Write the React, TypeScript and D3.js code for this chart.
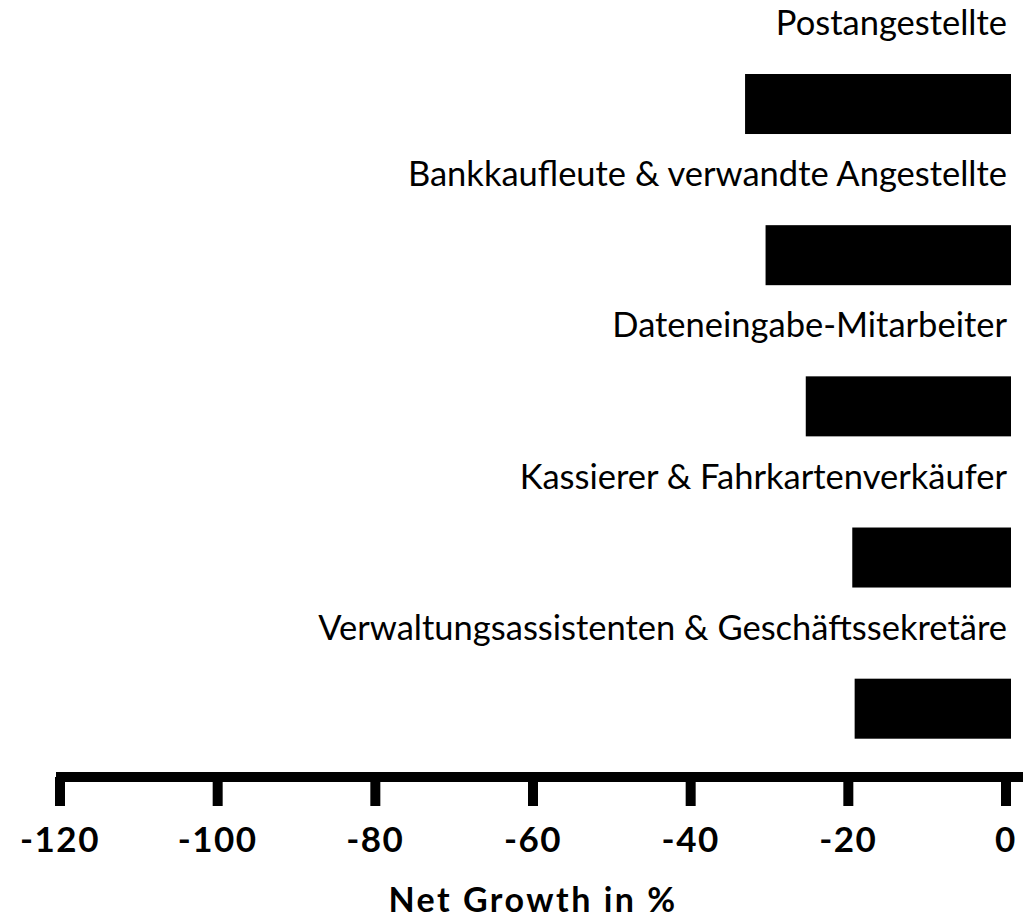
import React from "react";
import * as d3 from "d3";

const categories = [
  "Postangestellte",
  "Bankkaufleute & verwandte Angestellte",
  "Dateneingabe-Mitarbeiter",
  "Kassierer & Fahrkartenverkäufer",
  "Verwaltungsassistenten & Geschäftssekretäre",
];
const values = [-33.1, -30.5, -25.4, -19.5, -19.2];
const tickValues = [-120, -100, -80, -60, -40, -20, 0];
const axisTitle = "Net Growth in %";

const W = 1023;
const H = 920;

export default function App() {
  const x = d3.scaleLinear().domain([-120, 0]).range([60, 1006]);
  const y = d3
    .scaleBand<string>()
    .domain(categories)
    .range([74, 738.7])
    .paddingInner(0.603)
    .paddingOuter(0);
  const axisY = 777;
  const labelFont = "Lato, 'Open Sans', sans-serif";
  const tickFont = "Lato, 'Noto Sans', sans-serif";
  return (
    <svg
      width={W}
      height={H}
      style={{ position: "absolute", left: 0, top: 0, background: "#fff" }}
    >
      {categories.map((c, i) => {
        const top = y(c)!;
        return (
          <g key={c}>
            <text
              x={x(0) + 1}
              y={top - 39}
              textAnchor="end"
              fontFamily={labelFont}
              fontSize={34.5}
              fill="#000"
            >
              {c}
            </text>
            <rect
              x={x(values[i])}
              y={top}
              width={x(0) - x(values[i]) + 5}
              height={y.bandwidth()}
              fill="#000"
            />
          </g>
        );
      })}
      <line
        x1={x(-120) - 4}
        x2={W}
        y1={axisY}
        y2={axisY}
        stroke="#000"
        strokeWidth={10}
      />
      {tickValues.map((t) => (
        <g key={t}>
          <line
            x1={x(t)}
            x2={x(t)}
            y1={axisY}
            y2={806}
            stroke="#000"
            strokeWidth={10}
          />
          <text
            x={x(t)}
            y={852}
            textAnchor="middle"
            fontFamily={tickFont}
            fontWeight={700}
            fontSize={35}
            letterSpacing={1.5}
            fill="#000"
          >
            {String(t)}
          </text>
        </g>
      ))}
      <text
        x={(x(-120) + x(0)) / 2}
        y={912}
        textAnchor="middle"
        fontFamily={tickFont}
        fontWeight={700}
        fontSize={34}
        letterSpacing={2.5}
        fill="#000"
      >
        {axisTitle}
      </text>
    </svg>
  );
}
